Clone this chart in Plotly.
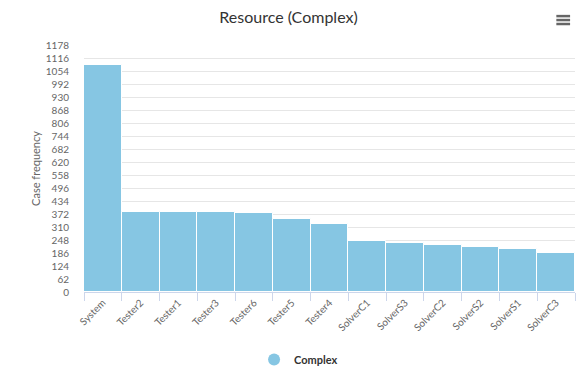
import plotly.graph_objects as go

categories = ["System", "Tester2", "Tester1", "Tester3", "Tester6", "Tester5", "Tester4",
              "SolverC1", "SolverS3", "SolverC2", "SolverS2", "SolverS1", "SolverC3"]
values = [1082, 381, 381, 381, 376, 349, 324, 245, 235, 224, 217, 205, 187]
y_ticks = [62 * i for i in range(20)]
series_name = "Complex"
title_text = "Resource (Complex)"
y_title = "Case frequency"

bar_color = "#86C6E3"
font_family = "Lato, Open Sans, sans-serif"

fig = go.Figure()
fig.add_trace(go.Bar(
    x=categories, y=values, name=series_name, showlegend=False,
    marker=dict(color=bar_color, line=dict(color="#ffffff", width=1)),
    width=1.0,
))
fig.add_trace(go.Scatter(
    x=[None], y=[None], mode="markers", name=series_name,
    marker=dict(color=bar_color, size=11, symbol="circle"),
    showlegend=True,
))

fig.update_layout(
    width=577, height=369,
    margin=dict(l=84, r=2, t=45, b=77, autoexpand=False),
    paper_bgcolor="#ffffff", plot_bgcolor="#ffffff",
    font=dict(family=font_family, color="#666666", size=10),
    title=dict(text=title_text, x=0.5, xanchor="center", y=0.952, yanchor="middle",
               font=dict(size=16, color="#333333", family=font_family)),
    bargap=0,
    showlegend=True,
    legend=dict(orientation="h", x=0.437, xanchor="center", y=-0.215, yanchor="top",
                font=dict(size=11, color="#333333", family=font_family, weight="bold"),
                itemsizing="constant", itemwidth=30),
    xaxis=dict(
        type="category", tickangle=-45, tickfont=dict(size=10, color="#666666"),
        showline=True, linecolor="#ccd6eb", linewidth=1,
        ticks="outside", ticklen=8, tickcolor="#ccd6eb", tickson="boundaries",
        showgrid=False, range=[-0.5, len(categories) - 0.5],
    ),
    yaxis=dict(
        range=[0, 1178], tickvals=y_ticks, tickfont=dict(size=10, color="#666666"),
        showgrid=True, gridcolor="#e6e6e6", gridwidth=1, zeroline=False,
        title=dict(text=y_title, font=dict(size=11, color="#666666"), standoff=2),
        ticks="", ticklabelstandoff=14,
    ),
)

# hamburger menu icon (above the plot area, top-right)
for yy in [1.117, 1.101, 1.085]:
    fig.add_shape(type="line", xref="paper", yref="paper",
                  x0=0.962, x1=0.990, y0=yy, y1=yy,
                  line=dict(color="#666666", width=2.5))

fig.write_html("out.html")
